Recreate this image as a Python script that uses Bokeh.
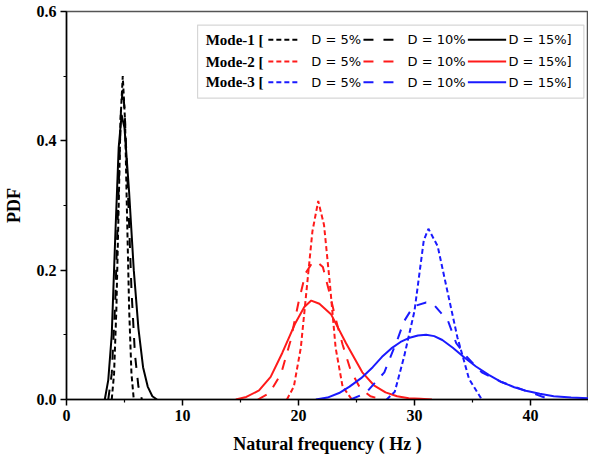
from bokeh.plotting import figure
from bokeh.models import Range1d, FixedTicker, BoxAnnotation, NumeralTickFormatter
from bokeh.core.properties import value
from bokeh.embed import file_html
from bokeh.resources import INLINE

# ---------------- data ----------------
m1_d5_x = [3.9, 4.1, 4.3, 4.5, 4.65, 4.85, 5.05, 5.2, 5.4, 5.6, 5.8]
m1_d5_y = [0.0, 0.04, 0.14, 0.30, 0.43, 0.50, 0.43, 0.30, 0.14, 0.04, 0.0]
m1_d10_x = [3.6, 3.9, 4.2, 4.5, 4.7, 4.85, 5.0, 5.3, 5.6, 5.9, 6.2, 6.5]
m1_d10_y = [0.0, 0.04, 0.15, 0.33, 0.45, 0.48, 0.45, 0.32, 0.17, 0.07, 0.02, 0.0]
m1_d15_x = [3.3, 3.6, 3.9, 4.2, 4.5, 4.75, 5.0, 5.4, 5.8, 6.2, 6.6, 7.0, 7.4, 7.8]
m1_d15_y = [0.0, 0.03, 0.10, 0.25, 0.39, 0.44, 0.42, 0.32, 0.20, 0.11, 0.05, 0.02, 0.005, 0.0]

m2_d5_x = [19.0, 19.6, 20.2, 20.7, 21.2, 21.7, 22.2, 22.7, 23.2, 23.8, 24.6]
m2_d5_y = [0.0, 0.02, 0.08, 0.17, 0.26, 0.307, 0.27, 0.18, 0.08, 0.02, 0.0]
m2_d10_x = [16.5, 17.5, 18.5, 19.3, 20.0, 20.6, 21.2, 21.6, 22.1, 22.6, 23.2, 23.8, 24.5, 25.3, 26.2, 27.2]
m2_d10_y = [0.0, 0.01, 0.04, 0.09, 0.15, 0.195, 0.212, 0.213, 0.205, 0.17, 0.125, 0.085, 0.045, 0.018, 0.005, 0.0]
m2_d15_x = [14.6, 15.5, 16.6, 17.6, 18.6, 19.7, 20.5, 21.1, 21.8, 22.8, 24.1, 25.5, 26.5, 27.5, 28.5, 29.5, 30.5, 31.5]
m2_d15_y = [0.0, 0.004, 0.014, 0.035, 0.072, 0.117, 0.143, 0.153, 0.148, 0.132, 0.087, 0.042, 0.022, 0.011, 0.005, 0.002, 0.001, 0.0]

m3_d5_x = [27.6, 28.3, 29.1, 30.0, 30.8, 31.2, 32.0, 32.9, 33.7, 34.7, 35.8]
m3_d5_y = [0.0, 0.012, 0.066, 0.137, 0.246, 0.264, 0.237, 0.162, 0.096, 0.032, 0.0]
m3_d10_x = [24.5, 25.8, 27.4, 28.6, 29.1, 29.9, 31.0, 31.6, 32.9, 33.6, 34.5, 35.8, 37.5, 39.5, 41.4]
m3_d10_y = [0.0, 0.01, 0.042, 0.096, 0.121, 0.144, 0.150, 0.148, 0.121, 0.087, 0.066, 0.042, 0.027, 0.014, 0.002]
m3_d15_x = [21.5, 22.5, 23.5, 24.4, 25.4, 26.4, 27.2, 28.0, 28.8, 29.5, 30.3, 31.0, 31.7, 32.4,
            33.3, 34.3, 35.3, 36.4, 37.5, 38.6, 39.7, 40.8, 42.0, 43.5, 45.0]
m3_d15_y = [0.0, 0.003, 0.01, 0.02, 0.033, 0.05, 0.066, 0.079, 0.089, 0.095, 0.099, 0.100, 0.098, 0.092,
            0.080, 0.065, 0.051, 0.038, 0.027, 0.019, 0.013, 0.009, 0.005, 0.003, 0.002]

x_ticks = [0, 10, 20, 30, 40]
y_ticks = [0.0, 0.2, 0.4, 0.6]
modes = ["Mode-1 [", "Mode-2 [", "Mode-3 ["]
damping_labels = ["D = 5%", "D = 10%", "D = 15%]"]

# ---------------- styles ----------------
colors = ["#000000", "#ff1a1a", "#1a1aff"]
dashes = ["5 3", "10 10", "solid"]
LW = 2

p = figure(width=588, height=456, output_backend="svg", toolbar_location=None,
           x_range=Range1d(0, 45), y_range=Range1d(0, 0.6),
           min_border_top=11, min_border_left=40, min_border_right=0, min_border_bottom=0)

p.xgrid.visible = False
p.ygrid.visible = False
p.outline_line_color = "#555555"
p.outline_line_width = 1.5
p.background_fill_color = "white"
p.border_fill_color = "white"

serif = "Liberation Serif"
for ax in (p.xaxis[0], p.yaxis[0]):
    ax.axis_line_color = "black"
    ax.axis_line_width = 1.5
    ax.major_tick_line_color = "black"
    ax.minor_tick_line_color = "black"
    ax.major_tick_line_width = 1.5
    ax.minor_tick_line_width = 1.2
    ax.major_tick_out = 6
    ax.major_tick_in = 0
    ax.minor_tick_out = 3
    ax.minor_tick_in = 0
    ax.major_label_text_font = serif
    ax.major_label_text_font_style = "bold"
    ax.major_label_text_font_size = "16px"
    ax.major_label_text_color = "black"
    ax.axis_label_text_font = serif
    ax.axis_label_text_font_style = "bold"
    ax.axis_label_text_font_size = "18px"
    ax.axis_label_text_color = "black"

p.xaxis.ticker = FixedTicker(ticks=x_ticks, minor_ticks=[5, 15, 25, 35, 45])
p.yaxis.ticker = FixedTicker(ticks=y_ticks, minor_ticks=[0.1, 0.3, 0.5])
p.yaxis.formatter = NumeralTickFormatter(format="0.0")
p.xaxis.axis_label = "Natural frequency ( Hz )"
p.yaxis.axis_label = "PDF"
p.xaxis.major_label_standoff = 4
p.yaxis.major_label_standoff = 4
p.xaxis.axis_label_standoff = 10
p.yaxis.axis_label_standoff = 10

series = [
    [(m1_d5_x, m1_d5_y), (m1_d10_x, m1_d10_y), (m1_d15_x, m1_d15_y)],
    [(m2_d5_x, m2_d5_y), (m2_d10_x, m2_d10_y), (m2_d15_x, m2_d15_y)],
    [(m3_d5_x, m3_d5_y), (m3_d10_x, m3_d10_y), (m3_d15_x, m3_d15_y)],
]
for mi, mode in enumerate(series):
    for di, (xs, ys) in enumerate(mode):
        p.line(xs, ys, line_color=colors[mi], line_width=LW, line_dash=dashes[di])

# ---------------- custom legend ----------------
p.add_layout(BoxAnnotation(left=11.3, right=44.6, bottom=0.466, top=0.579,
                           fill_color="white", fill_alpha=1.0,
                           line_color="#777777", line_width=1.2, level="underlay"))
row_y = [0.5565, 0.5225, 0.4905]
mode_x = 12.0
seg_x = [(17.4, 20.1), (25.6, 28.7), (34.6, 37.9)]
lab_x = [21.1, 29.4, 38.1]
for mi in range(3):
    y = row_y[mi]
    p.text(x=[mode_x], y=[y], text=[modes[mi]], text_font=value(serif),
           text_font_style="bold", text_font_size="15px", text_color="black",
           text_baseline="middle", text_align="left")
    for di in range(3):
        p.line([seg_x[di][0], seg_x[di][1]], [y, y], line_color=colors[mi],
               line_width=LW, line_dash=dashes[di])
        p.text(x=[lab_x[di]], y=[y], text=[damping_labels[di]],
               text_font=value("DejaVu Sans"), text_font_size="13px",
               text_color="black", text_baseline="middle", text_align="left")

open("out.html", "w").write(file_html(p, INLINE))
